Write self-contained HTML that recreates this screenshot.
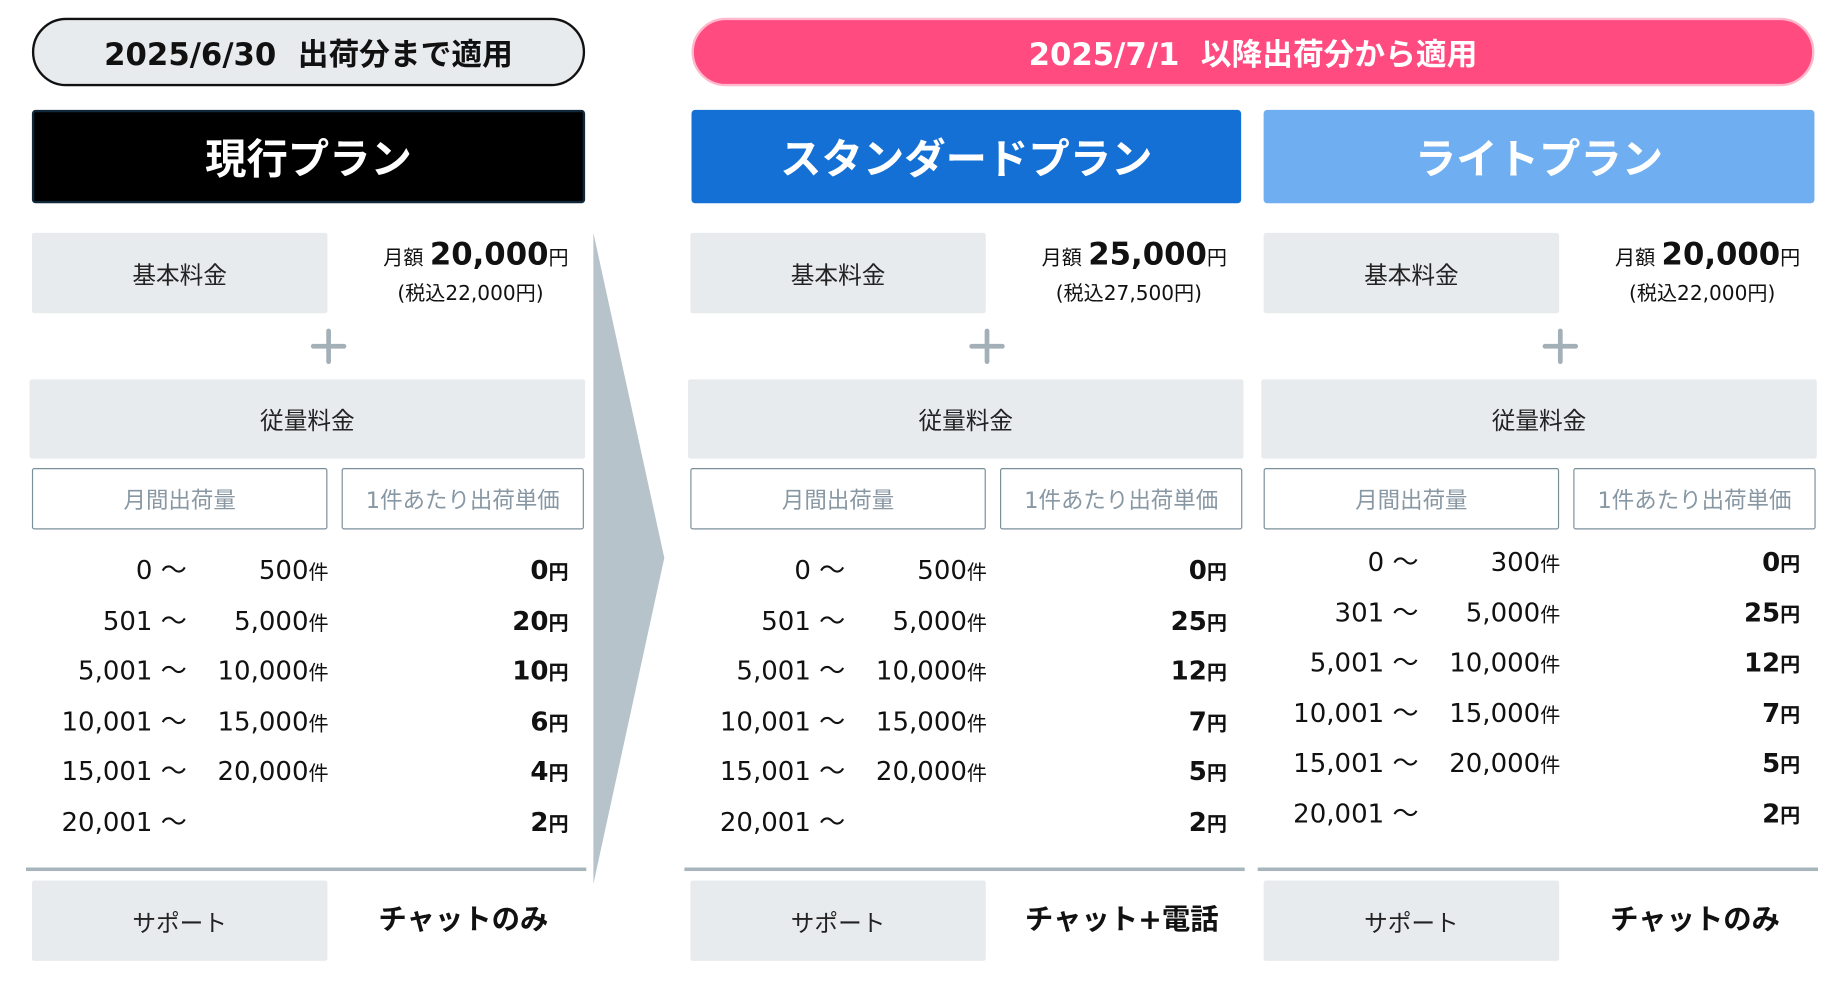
<!DOCTYPE html>
<html><head><meta charset="utf-8">
<style>
html,body{margin:0;padding:0;background:#fff;width:1844px;height:981px;overflow:hidden}
#s{position:absolute;left:0;top:0;width:1560px;height:830px;transform:scale(1.18205,1.1819);transform-origin:0 0;font-family:"DejaVu Sans","Noto Sans CJK JP",sans-serif;color:#111}
.a{position:absolute;box-sizing:border-box}
.pill{display:flex;align-items:center;justify-content:center;font-weight:bold;font-size:26px;border-radius:30px}
.hd{display:flex;align-items:center;justify-content:center;color:#fff;font-weight:bold;font-size:35px;border-radius:3px}
.g{background:#e8ebee;display:flex;align-items:center;justify-content:center;font-size:20px;color:#222;border-radius:2px}
.th{background:#fff;border:1.5px solid #7b8f9b;display:flex;align-items:center;justify-content:center;font-size:19px;color:#8797a3;border-radius:2px}
.plus{width:30px;height:30px}
.plus:before,.plus:after{content:"";position:absolute;background:#a3b0b8;border-radius:2px}
.plus:before{left:0;top:13px;width:30px;height:4px}
.plus:after{left:13px;top:0;width:4px;height:30px}
.pr{text-align:right;font-size:17px;line-height:1;white-space:nowrap}
.pr b{font-size:26px}
.tx{font-size:17px;text-align:center;white-space:nowrap}
.div{height:3px;background:#a8b5bd}
.row{font-size:22px;line-height:30px;white-space:nowrap}
.r{text-align:right}
.bold{font-weight:bold}
.sm{font-size:17px}
.sup{font-weight:bold;font-size:24px;text-align:center;white-space:nowrap}
</style></head><body>
<div id="s">
<div class="a pill" style="left:27px;top:15px;width:468px;height:58px;background:#e8ebee;border:2.5px solid #111">2025/6/30&nbsp; 出荷分まで適用</div>
<div class="a pill" style="left:585px;top:15px;width:950px;height:58px;background:#ff4b80;border:2px solid #ffb8cc;color:#fff">2025/7/1&nbsp; 以降出荷分から適用</div>
<div class="a hd" style="left:27px;top:93px;width:468px;height:79px;background:#000;border:2px solid #10283a">現行プラン</div>
<div class="a hd" style="left:585px;top:93px;width:465px;height:79px;background:#1570d6">スタンダードプラン</div>
<div class="a hd" style="left:1069px;top:93px;width:466px;height:79px;background:#6faef0">ライトプラン</div>
<svg class="a" style="left:0;top:0" width="600" height="800"><polygon points="502,197 562,472 502,748" fill="#b6c3ca"/></svg>
</div>
<script>
var s=document.getElementById('s');
var plans=[
 {x:27,name:'current',base:'20,000',tax:'(税込22,000円)',lo:['0','501','5,001','10,001','15,001','20,001'],hi:['500','5,000','10,000','15,000','20,000',''],price:['0','20','10','6','4','2'],sup:'チャットのみ',dy:0},
 {x:584,name:'standard',base:'25,000',tax:'(税込27,500円)',lo:['0','501','5,001','10,001','15,001','20,001'],hi:['500','5,000','10,000','15,000','20,000',''],price:['0','25','12','7','5','2'],sup:'チャット+電話',dy:0},
 {x:1069,name:'lite',base:'20,000',tax:'(税込22,000円)',lo:['0','301','5,001','10,001','15,001','20,001'],hi:['300','5,000','10,000','15,000','20,000',''],price:['0','25','12','7','5','2'],sup:'チャットのみ',dy:-7}
];
function mk(cls,l,t,w,h,html){var d=document.createElement('div');d.className='a '+cls;d.style.left=l+'px';d.style.top=t+'px';if(w)d.style.width=w+'px';if(h)d.style.height=h+'px';d.innerHTML=html||'';s.appendChild(d);return d;}
plans.forEach(function(p){
 var x=p.x,e;
 e=mk('g',x,197,250,68,'基本料金');
 
 
 e=mk('pr',x+250,203,204,30,'月額 <b>'+p.base+'</b>円');
 
 
 e=mk('tx',x+290,234,162,22,p.tax);
 
 
 e=mk('plus',x+236,278,30,30,'');
 
 
 e=mk('g',x-2,321,470,67,'従量料金');
 
 
 e=mk('th',x,396,250,52,'月間出荷量');
 
 
 e=mk('th',x+262,396,205,52,'1件あたり出荷単価');
 
 
 for(var i=0;i<6;i++){
  var cy=484+p.dy+i*42.6-15;
  e=mk('row r',x-20,cy,151,30,p.lo[i]+' ～');
  
  
  if(p.hi[i]){
   e=mk('row r',x+120,cy,131,30,p.hi[i]+'<span class="sm">件</span>');
   
   
  }
  e=mk('row r bold',x+330,cy,124,30,p.price[i]+'<span class="sm">円</span>');
  
  
 }
 e=mk('div',x-5,734,474,3,'');
 
 
 e=mk('g',x,745,250,68,'サポート');
 
 
 e=mk('sup',x+270,758,190,34,p.sup);
 
 
});
</script>
</body></html>
